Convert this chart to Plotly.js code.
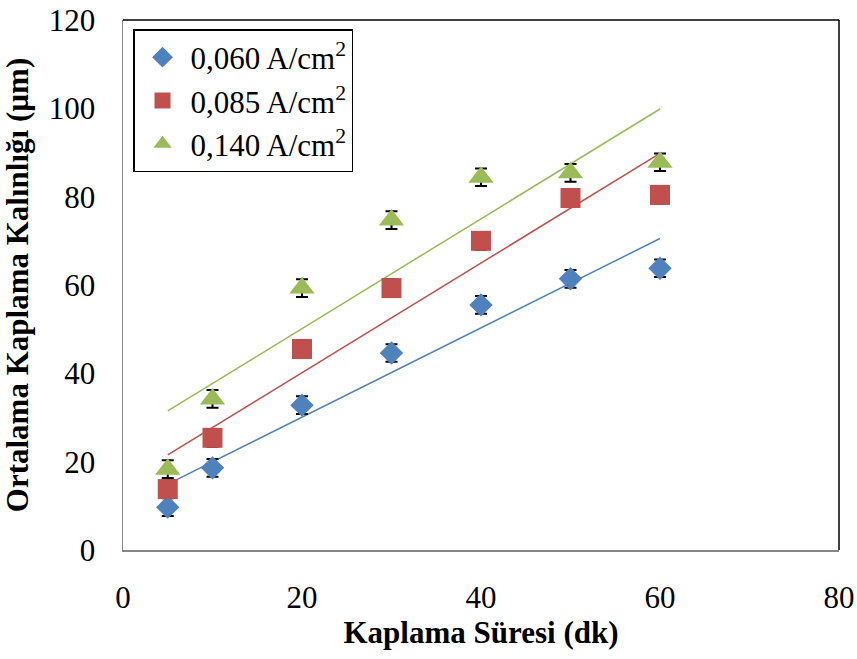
<!DOCTYPE html>
<html>
<head>
<meta charset="utf-8">
<script src="https://cdn.plot.ly/plotly-3.0.1.min.js"></script>
<style>html,body{margin:0;padding:0;background:#fff;}#chart{width:857px;height:659px;}</style>
</head>
<body>
<div id="chart"></div>
<script>
const times = [5, 10, 20, 30, 40, 50, 60];
const seriesNames = ["0,060 A/cm<sup>2</sup>", "0,085 A/cm<sup>2</sup>", "0,140 A/cm<sup>2</sup>"];
const thick060 = [9.7, 18.6, 32.8, 44.6, 55.5, 61.4, 63.8];
const thick085 = [13.8, 25.4, 45.5, 59.3, 70.0, 79.7, 80.4];
const thick140 = [18.3, 34.2, 59.3, 74.7, 84.4, 85.4, 87.8];
const err060 = [2, 2, 2, 2, 2, 2, 2];
const err085 = [2, 2, 2, 2, 2, 2, 2];
const err140 = [2, 2, 2, 2, 2, 2, 2];
const colors = ["#4F81BD", "#C0504D", "#9BBB59"];
const symbols = ["diamond", "square", "triangle-up"];
const sizes = [18, 20, 22];

function linfit(x, y) {
  const n = x.length;
  const mx = x.reduce((a, b) => a + b, 0) / n;
  const my = y.reduce((a, b) => a + b, 0) / n;
  let sxy = 0, sxx = 0;
  for (let i = 0; i < n; i++) { sxy += (x[i] - mx) * (y[i] - my); sxx += (x[i] - mx) * (x[i] - mx); }
  const b = sxy / sxx;
  return [my - b * mx, b];
}

const data = [];
const ys = [thick060, thick085, thick140];
const errs = [err060, err085, err140];
ys.forEach((y, i) => {
  const [a, b] = linfit(times, y);
  const xe = [times[0], times[times.length - 1]];
  data.push({
    x: xe, y: xe.map(v => a + b * v), type: "scatter", mode: "lines",
    line: {color: colors[i], width: 1.5}, showlegend: false, hoverinfo: "skip"
  });
});
ys.forEach((y, i) => {
  data.push({
    x: times, y: y, type: "scatter", mode: "markers", name: seriesNames[i],
    marker: {color: colors[i], symbol: symbols[i], size: sizes[i]},
    error_y: {type: "data", array: errs[i], visible: true, color: "#000", thickness: 2, width: 6}
  });
});

const fam = "Liberation Serif, Times New Roman, serif";
const F = s => ({family: fam, size: s, color: "#000"});
const layout = {
  width: 857, height: 659,
  margin: {l: 123, r: 18, t: 20, b: 109},
  paper_bgcolor: "#fff", plot_bgcolor: "#fff",
  font: F(31),
  showlegend: true,
  legend: {
    x: 0.014, y: 0.983, xanchor: "left", yanchor: "top",
    bordercolor: "#000", borderwidth: 1.5, bgcolor: "#fff",
    font: F(31), itemwidth: 46
  },
  xaxis: {
    range: [0, 80], tickvals: [0, 20, 40, 60, 80], ticktext: ["0", "20", "40", "60", "80"],
    showgrid: false, zeroline: false, showline: true, linecolor: "#868686", linewidth: 1.5,
    ticks: "", ticklabelstandoff: 19,
    tickfont: F(31),
    title: {text: "<b>Kaplama Süresi (dk)</b>", font: F(31), standoff: 6}
  },
  yaxis: {
    range: [0, 120], tickvals: [0, 20, 40, 60, 80, 100, 120], ticktext: ["0", "20", "40", "60", "80", "100", "120"],
    showgrid: false, zeroline: false, showline: true, linecolor: "#868686", linewidth: 1.5,
    ticks: "", ticklabelstandoff: 20,
    tickfont: F(31),
    title: {text: "<b>Ortalama Kaplama Kalınlığı (µm)</b>", font: F(31), standoff: 12}
  },
  shapes: [
    {type: "line", xref: "paper", yref: "paper", x0: 0, x1: 1, y0: 1, y1: 1, line: {color: "#000", width: 1.5}},
    {type: "line", xref: "paper", yref: "paper", x0: 1, x1: 1, y0: 0, y1: 1, line: {color: "#000", width: 1.5}}
  ]
};
Plotly.newPlot("chart", data, layout, {displayModeBar: false, staticPlot: true});
</script>
</body>
</html>
